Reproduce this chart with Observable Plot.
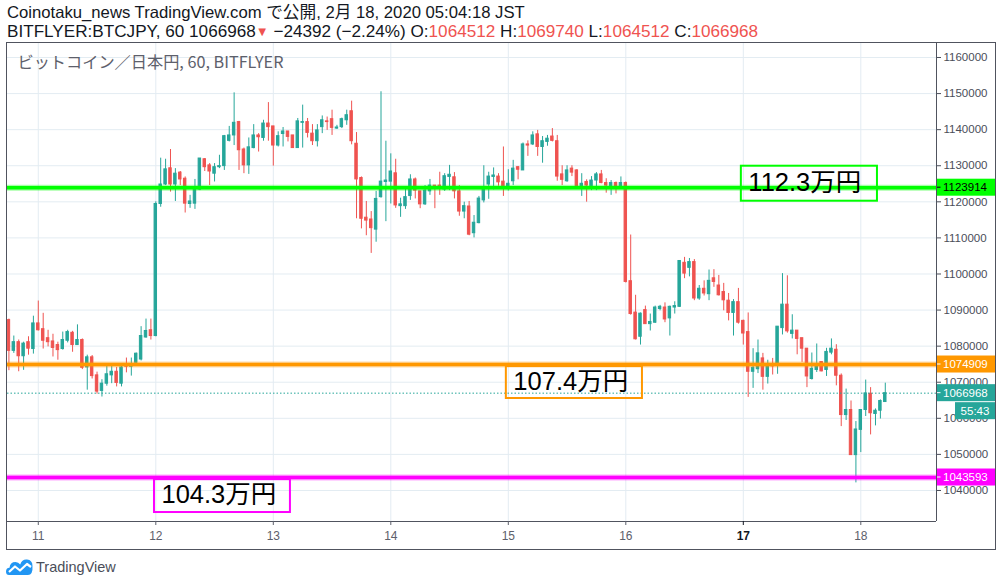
<!DOCTYPE html>
<html><head><meta charset="utf-8">
<script src="https://cdn.jsdelivr.net/npm/d3@7"></script>
<script src="https://cdn.jsdelivr.net/npm/@observablehq/plot@0.6"></script>
<style>
body{margin:0;background:#fff;width:1002px;height:586px;position:relative;overflow:hidden;font-family:"Liberation Sans","Noto Sans CJK JP",sans-serif}
#hdr{position:absolute;left:7px;top:3px;color:#131722;white-space:nowrap}
#hdr div{font-size:15.5px;line-height:19px;height:19px}
.r{color:#ef5350}
.tri{color:#ef5350;font-size:13px;vertical-align:1px}
#wrap{position:absolute;left:0;top:42px}
#frame{position:absolute;left:6px;top:42px;width:990px;height:508px;box-sizing:border-box;border:1px solid #50535e;pointer-events:none}
#foot{position:absolute;left:6px;top:557px;height:20px;display:flex;align-items:center;font-size:14.5px;color:#4a4e59}
#foot svg{margin-right:3px}
</style></head><body>
<div id="hdr">
<div id="l1">Coinotaku_news TradingView.com で公開, 2月 18, 2020 05:04:18 JST</div>
<div id="l2">BITFLYER:BTCJPY, 60 1066968<span class="tri">▼</span> −24392 (−2.24%) O:<span class="r">1064512</span> H:<span class="r">1069740</span> L:<span class="r">1064512</span> C:<span class="r">1066968</span></div>
</div>
<div id="wrap"></div>
<div id="frame"></div>
<div id="foot"><svg width="27" height="18" viewBox="0 0 27 18"><path d="M3 17 Q0 17 0 13.5 Q0 10 3.5 9.8 Q4 4 9.5 4 Q12.5 4 14.2 6.5 Q16 1 21 1.5 Q26.5 2 26.5 8 Q27 17 22 17 Z" fill="#2196f3"/><polyline points="3,14 9,8.5 14,12.5 21,6 25,9" fill="none" stroke="#fff" stroke-width="2.2" stroke-linejoin="round"/></svg>TradingView</div>
<script>
// hourly candles, starting 2020-02-10 18:00 JST
const startTime = "2020-02-10T18:00:00Z";
const opens = [1087200,1078700,1081100,1077200,1081100,1079200,1086300,1084700,1082200,1081300,1080300,1079200,1081500,1083700,1080300,1081700,1074100,1076900,1071900,1067600,1069600,1071900,1072900,1069600,1075000,1074300,1075400,1076300,1082400,1084400,
1082800,1119400,1124800,1129300,1124800,1128100,1126400,1119400,1119500,1123400,1131800,1130100,1127800,1129600,1129900,1136900,1138400,1142100,1134500,1130100,1134900,1138400,1137700,1141700,1140900,1135600,1138800,1139500,1138400,1134900,
1141900,1142100,1138900,1136800,1140700,1142300,1142900,1140300,1140700,1142600,1145100,1136100,1126600,1115600,1115100,1112300,1121300,1125500,1125600,1127900,1118800,1118800,1121600,1126200,1122900,1119300,1122900,1124500,1124500,1123400,
1126900,1126800,1122900,1117300,1118700,1111300,1114100,1120400,1124800,1126900,1127000,1125600,1124300,1125700,1129600,1128700,1135900,1135900,1138700,1135200,1136600,1138100,1136800,1127600,1125700,1129200,1128700,1124400,1125500,1124300,
1125900,1127600,1125200,1124400,1125200,1124300,1125200,1098000,1089300,1082600,1090000,1086100,1086500,1090300,1090700,1087700,1090700,1090900,1103100,1101700,1103300,1093200,1095900,1094400,1098800,1096800,1095000,1092600,1089200,1092200,
1087000,1083900,1072900,1073600,1076600,1071500,1075000,1074700,1085000,1091500,1083400,1084300,1082200,1079300,1070900,1073400,1075600,1073400,1078200,1079000,1071800,1060900,1062300,1049800,1056800,1062300,1066800,1061200,1062100,1064512];
const highs = [1087500,1082800,1081700,1081100,1082600,1088300,1092500,1089100,1084400,1083300,1081100,1083900,1084400,1084100,1085900,1082000,1077500,1077400,1072800,1070700,1074400,1074400,1074100,1074400,1076700,1076700,1078100,1085400,1087500,1087500,
1120000,1132100,1131800,1134500,1129200,1128400,1126900,1121800,1126200,1132000,1132000,1130600,1130600,1132900,1138400,1140900,1150200,1142300,1134900,1137700,1141400,1138900,1142600,1147500,1140900,1139400,1140600,1139500,1138400,1143100,
1146800,1143100,1141400,1141400,1143800,1143500,1145400,1141200,1143200,1145400,1147900,1139200,1126900,1120100,1117300,1122900,1150500,1136800,1133300,1131800,1121000,1123600,1127500,1126600,1122900,1124500,1126200,1124500,1128200,1127800,
1130100,1128100,1124500,1119900,1120100,1116200,1121500,1130000,1128200,1129400,1127800,1135200,1128900,1131500,1129800,1136300,1136900,1139400,1139800,1138100,1138400,1140300,1138400,1130000,1130000,1130000,1128900,1127800,1126100,1127000,
1128100,1128700,1126400,1125900,1125500,1126900,1125500,1110800,1094100,1089200,1091100,1088900,1091100,1091300,1092000,1091100,1092300,1103600,1104600,1104300,1104000,1096800,1098100,1101100,1101200,1099600,1097400,1094600,1092900,1096000,
1087200,1089200,1079300,1081700,1078000,1076100,1076600,1085400,1100100,1099500,1088700,1084300,1082200,1079300,1078100,1080600,1075600,1079400,1082000,1080400,1072300,1068100,1064800,1059100,1062300,1070600,1068500,1062600,1065100,1069740];
const lows = [1073200,1078000,1072900,1073300,1077500,1077800,1084200,1079200,1079800,1077000,1076100,1078900,1080900,1078300,1080300,1073500,1067800,1070900,1066700,1065900,1068900,1069600,1068700,1068700,1072600,1071700,1075200,1075900,1082200,1081700,
1082600,1118500,1124500,1122700,1120100,1124500,1116900,1118200,1117900,1123100,1128400,1124500,1125500,1129200,1128700,1136600,1135600,1128700,1127800,1127600,1134700,1133800,1136800,1136800,1129900,1135200,1135200,1136600,1134900,1134900,
1134900,1137700,1135600,1135200,1138900,1139800,1138400,1140100,1140300,1141200,1135800,1115300,1112500,1110600,1105700,1108800,1121000,1114500,1119400,1118200,1115700,1117900,1120400,1120800,1118100,1119000,1121800,1118100,1121800,1122900,
1123100,1120800,1116000,1115300,1110600,1110000,1113900,1119700,1120700,1123300,1124300,1121500,1123000,1124500,1126100,1128700,1132600,1135600,1132600,1130700,1135400,1136600,1125700,1124500,1125400,1127000,1124300,1121500,1119900,1123100,
1123100,1125000,1122400,1121800,1122200,1123900,1097500,1088600,1081700,1080300,1086100,1084200,1086300,1089800,1086500,1082800,1088900,1090700,1098700,1099200,1092600,1092700,1093900,1092600,1096300,1093900,1089800,1087000,1082800,1086100,
1080300,1065800,1068300,1072400,1067800,1069500,1072000,1072200,1083100,1083600,1082000,1077600,1075500,1068500,1070600,1072700,1072900,1071600,1077600,1069000,1057700,1059400,1049800,1042100,1050500,1060500,1055400,1057900,1059800,1064512];
const closes = [1078700,1081100,1077200,1080700,1079300,1086300,1084400,1081500,1081100,1079500,1078900,1081700,1083900,1080300,1081700,1074000,1076900,1071700,1067400,1069600,1072200,1072900,1069800,1074100,1074300,1074900,1077900,1082800,1084200,1082800,
1119400,1124800,1129000,1124800,1127800,1126200,1119500,1120100,1123600,1132000,1129600,1128400,1129600,1129900,1138200,1138400,1141900,1134300,1130100,1135100,1138400,1137900,1141700,1140700,1135600,1138200,1139500,1138000,1134900,1142300,
1142100,1139100,1136800,1139800,1142600,1142100,1140500,1140600,1142900,1144000,1136800,1126200,1115300,1114800,1112700,1120800,1125600,1125900,1128400,1119000,1119300,1121300,1126200,1123100,1119300,1123100,1124500,1124400,1124400,1127100,
1127500,1122900,1117300,1118800,1110900,1114200,1120900,1123600,1127000,1127300,1125400,1124300,1125000,1129200,1128900,1135900,1135600,1138400,1135200,1136800,1137500,1136900,1127000,1126100,1128700,1128100,1124400,1125000,1124500,1125900,
1127600,1125200,1124500,1125200,1124400,1125200,1097800,1088900,1081900,1089000,1086100,1086700,1090700,1090900,1087400,1090900,1091100,1103600,1100100,1103300,1093200,1095900,1094600,1098100,1097800,1094100,1092700,1089200,1092200,1086500,
1083500,1072900,1074000,1078000,1071500,1074500,1074400,1085400,1091500,1084100,1084300,1082000,1079300,1071600,1073700,1074400,1073000,1078400,1079300,1071800,1060900,1062300,1049800,1056900,1062300,1066900,1061400,1062100,1064800,1066968];

// axes
const dayLabels = [11,12,13,14,15,16,17,18];
const boldDay = 17;
const priceTicks = [1040000,1050000,1060000,1070000,1080000,1090000,1100000,1110000,1120000,1130000,1140000,1150000,1160000];
const xDomain = ["2020-02-10T17:42:36Z","2020-02-18T15:27:36Z"];
const yDomain = [1031400, 1163880];

// horizontal levels
const levelPrices = [1123914, 1074909, 1043593];
const levelColors = ["#00ff00", "#ff9800", "#ff00ff"];
const levelTextColors = ["#000000", "#ffffff", "#ffffff"];
const lastPrice = 1066968;
const countdown = "55:43";

// text annotations (boxes in time / price)
const noteTexts = ["112.3万円", "107.4万円", "104.3万円"];
const noteStart = ["2020-02-16T23:36:00Z", "2020-02-14T23:36:00Z", "2020-02-11T23:44:00Z"];
const noteEnd = ["2020-02-18T03:24:00Z", "2020-02-16T03:24:00Z", "2020-02-13T03:30:00Z"];
const noteTop = [1129870, 1074360, 1043040];
const noteBottom = [1120170, 1065490, 1033890];

const up = "#26a69a", down = "#ef5350";
const t0 = +new Date(startTime);
const candles = opens.map((o, i) => ({
  t: new Date(t0 + i * 3600e3), o, h: highs[i], l: lows[i], c: closes[i]
}));
const dayDates = dayLabels.map(d => new Date(Date.UTC(2020, 1, d)));
const levels = levelPrices.map((p, i) => ({p, color: levelColors[i], tc: levelTextColors[i]}));
const notes = noteTexts.map((text, i) => ({
  text, color: levelColors[i],
  x1: new Date(noteStart[i]), x2: new Date(noteEnd[i]),
  y1: noteTop[i], y2: noteBottom[i], ym: (noteTop[i] + noteBottom[i]) / 2
}));
const half = 15 * 60e3;
const fontF = "Liberation Sans, Noto Sans CJK JP, sans-serif";

const chart = Plot.plot({
  width: 1002, height: 508,
  marginLeft: 7, marginRight: 66, marginTop: 1, marginBottom: 29,
  x: {type: "utc", domain: xDomain.map(d => new Date(d))},
  y: {domain: yDomain},
  style: {fontFamily: fontF, background: "transparent", overflow: "visible"},
  marks: [
    Plot.gridY(priceTicks, {stroke: "#e3ecf2", strokeOpacity: 1}),
    Plot.gridX(dayDates, {stroke: "#e3ecf2", strokeOpacity: 1}),
    Plot.ruleX(candles, {x: "t", y1: "l", y2: "h", stroke: d => d.c >= d.o ? up : down, strokeWidth: 1}),
    Plot.rect(candles, {x1: d => new Date(+d.t - half), x2: d => new Date(+d.t + half), y1: "o", y2: "c",
      fill: d => d.c >= d.o ? up : down, stroke: d => d.c >= d.o ? up : down, strokeWidth: 1}),
    Plot.ruleY([lastPrice], {stroke: up, strokeWidth: 1, strokeDasharray: "1.5,2"}),
    Plot.ruleY(levels, {y: "p", stroke: "color", strokeWidth: 6, strokeOpacity: 0.35}),
    Plot.ruleY(levels, {y: "p", stroke: "color", strokeWidth: 3.6}),
    Plot.rect(notes, {x1: "x1", x2: "x2", y1: "y1", y2: "y2", fill: "#fff", fillOpacity: 0, stroke: "color", strokeWidth: 2}),
    Plot.text(notes, {x: "x1", y: "ym", text: "text", dx: 7, dy: -1, textAnchor: "start", fontSize: 25.5, fill: "#000"}),
    Plot.text(["ビットコイン／日本円, 60, BITFLYER"], {frameAnchor: "top-left", dx: 10, dy: 19, textAnchor: "start",
      lineAnchor: "middle", fontSize: 16.2, fill: "#5d606b", fontFamily: "Noto Sans CJK JP, sans-serif"}),
    Plot.ruleX([xDomain[1]].map(d => new Date(d)), {stroke: "#50535e"}),
    Plot.ruleY([yDomain[0]], {stroke: "#50535e"}),
    Plot.axisY(priceTicks, {anchor: "right", tickSize: 4, tickPadding: 3, fontSize: 11.5, color: "#4a4e59",
      tickFormat: d3.format("d"), label: null}),
    Plot.axisX(dayDates.filter((d, i) => dayLabels[i] !== boldDay), {tickSize: 4, tickPadding: 6, fontSize: 12,
      color: "#5d606b", tickFormat: d => String(d.getUTCDate()), label: null}),
    Plot.axisX(dayDates.filter((d, i) => dayLabels[i] === boldDay), {tickSize: 4, tickPadding: 6, fontSize: 12,
      color: "#131722", fontWeight: "bold", tickFormat: d => String(d.getUTCDate()), label: null})
  ]
});
document.getElementById("wrap").appendChild(chart);

// price labels on the right scale
const ys = chart.scale("y");
const svg = d3.select(chart);
const xL = 1002 - 66 + 1, xR = 995;
const tags = levels.map(l => ({p: l.p, bg: l.color, fg: l.tc}))
  .concat([{p: lastPrice, bg: up, fg: "#fff"}]);
const g = svg.append("g").attr("font-family", fontF).attr("font-size", 11.5).attr("text-anchor", "start");
for (const tg of tags) {
  const y = ys.apply(tg.p);
  g.append("rect").attr("x", xL).attr("y", y - 8.5).attr("width", xR - xL).attr("height", 17).attr("fill", tg.bg);
  g.append("line").attr("x1", xL).attr("x2", xL + 3.5).attr("y1", y).attr("y2", y).attr("stroke", tg.fg);
  g.append("text").attr("x", xL + 6).attr("y", y).attr("dy", "0.35em").attr("fill", tg.fg).text(tg.p);
  if (tg.p === lastPrice) {
    g.append("rect").attr("x", 955).attr("y", y + 9.5).attr("width", xR - 955).attr("height", 17).attr("fill", up);
    g.append("text").attr("x", (955 + xR) / 2).attr("y", y + 18).attr("dy", "0.35em").attr("text-anchor", "middle")
      .attr("fill", "#fff").text(countdown);
  }
}

// fit header widths
function fit(id, w) {
  const el = document.getElementById(id);
  el.style.display = "inline-block";
  const cur = el.getBoundingClientRect().width;
  el.style.fontSize = (15.5 * w / cur).toFixed(2) + "px";
  el.style.display = "block";
}
fit("l1", 518); fit("l2", 753);
</script>
</body></html>
